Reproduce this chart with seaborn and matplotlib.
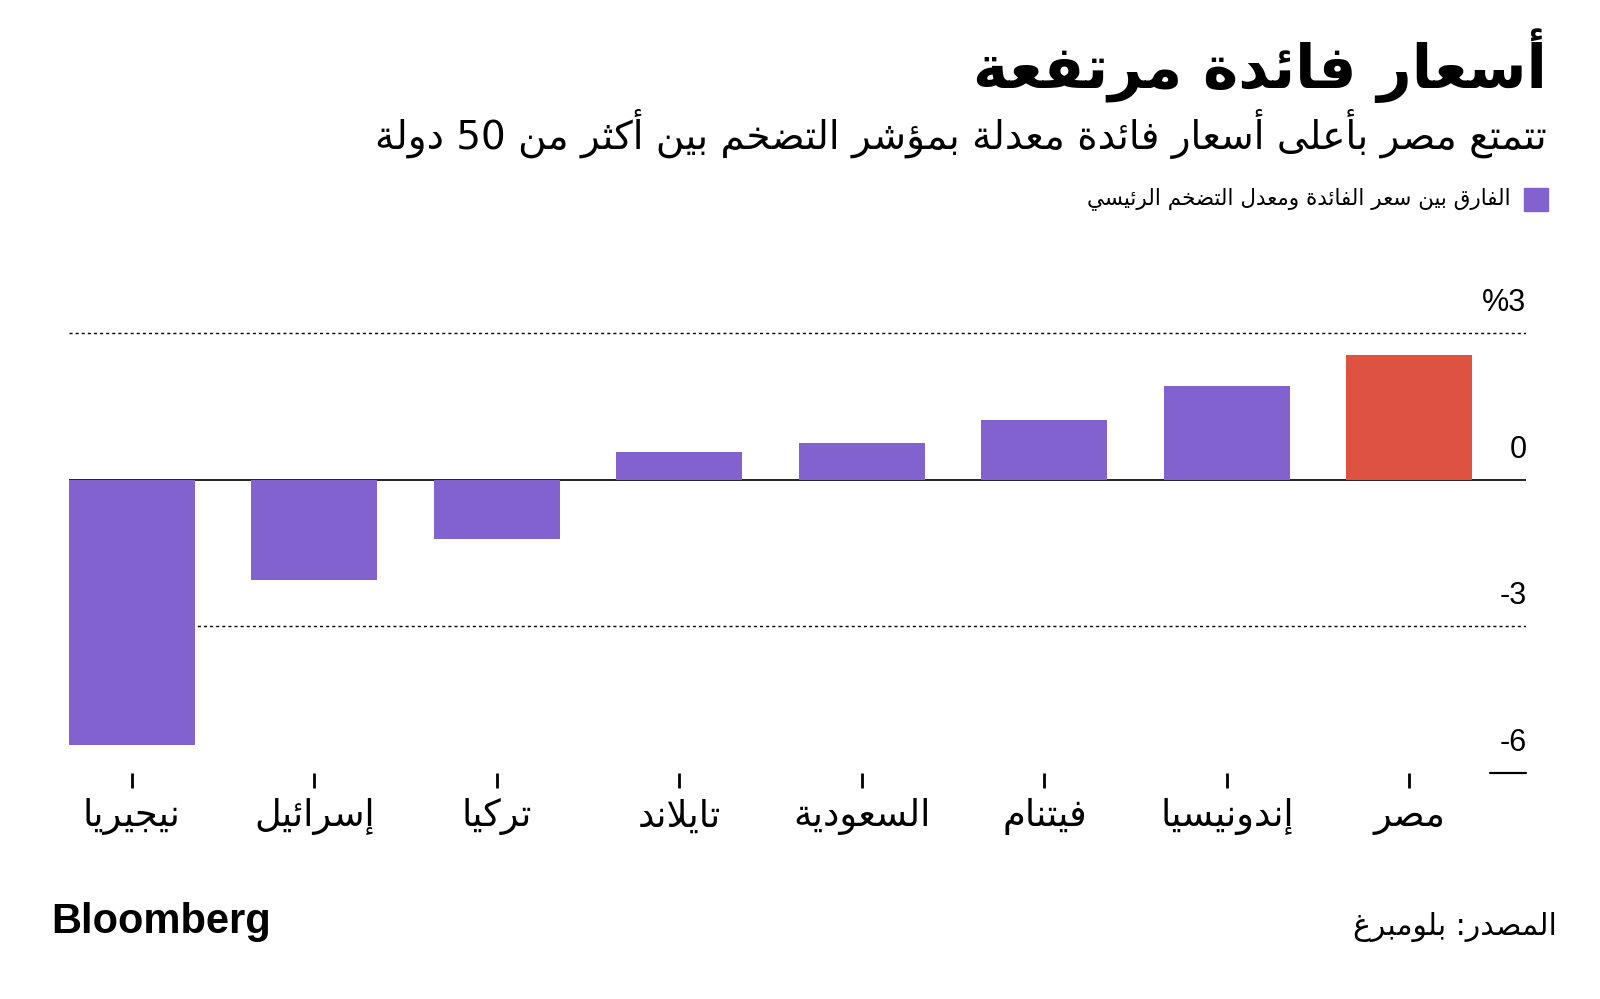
import re
import matplotlib
matplotlib.use("Agg")
import matplotlib.pyplot as plt
import matplotlib.patches as mpatches
import pandas as pd
import seaborn as sns

# ================================
# Data
# ================================
countries = ["نيجيريا", "إسرائيل", "تركيا", "تايلاند", "السعودية", "فيتنام", "إندونيسيا", "مصر"]
spread = [-5.43, -2.05, -1.21, 0.57, 0.76, 1.22, 1.93, 2.56]
highlight = "مصر"

y_levels = [3, 0, -3, -6]
y_labels = ["%3", "0", "-3", "-6"]

title = "أسعار فائدة مرتفعة"
subtitle = "تتمتع مصر بأعلى أسعار فائدة معدلة بمؤشر التضخم بين أكثر من 50 دولة"
legend_label = "الفارق بين سعر الفائدة ومعدل التضخم الرئيسي"
source = "المصدر: بلومبرغ"
brand = "Bloomberg"

PURPLE = "#8262CF"
RED = "#DE5242"

# ================================
# Minimal Arabic shaping (matplotlib has no bidi / joining support)
# ================================
_letters = [("ء", 1), ("آ", 2), ("أ", 2), ("ؤ", 2), ("إ", 2), ("ئ", 4), ("ا", 2),
            ("ب", 4), ("ة", 2), ("ت", 4), ("ث", 4), ("ج", 4), ("ح", 4), ("خ", 4),
            ("د", 2), ("ذ", 2), ("ر", 2), ("ز", 2), ("س", 4), ("ش", 4), ("ص", 4),
            ("ض", 4), ("ط", 4), ("ظ", 4), ("ع", 4), ("غ", 4), ("ف", 4), ("ق", 4),
            ("ك", 4), ("ل", 4), ("م", 4), ("ن", 4), ("ه", 4), ("و", 2), ("ى", 2),
            ("ي", 4)]
FORMS = {}
cp = 0xFE80
for ch, n in _letters:
    FORMS[ch] = [chr(cp + k) for k in range(n)]
    cp += n
LAM_ALEF = {"آ": 0xFEF5, "أ": 0xFEF7, "إ": 0xFEF9, "ا": 0xFEFB}


def shape(text):
    tokens = []
    i = 0
    while i < len(text):
        c = text[i]
        if c == "ل" and i + 1 < len(text) and text[i + 1] in LAM_ALEF:
            tokens.append(("LA", text[i + 1]))
            i += 2
        else:
            tokens.append(("C", c))
            i += 1

    def joins_next(t):
        return t[0] == "C" and t[1] in FORMS and len(FORMS[t[1]]) == 4

    def joins_prev(t):
        return t[0] == "LA" or (t[1] in FORMS and len(FORMS[t[1]]) > 1)

    res = []
    for k, t in enumerate(tokens):
        p = k > 0 and joins_next(tokens[k - 1]) and joins_prev(t)
        n = k + 1 < len(tokens) and joins_next(t) and joins_prev(tokens[k + 1])
        if t[0] == "LA":
            res.append(chr(LAM_ALEF[t[1]] + (1 if p else 0)))
        elif t[1] in FORMS:
            f = FORMS[t[1]]
            idx = 3 if (p and n) else 1 if p else 2 if n else 0
            res.append(f[min(idx, len(f) - 1)] if len(f) > 1 else f[0])
        else:
            res.append(t[1])
    return "".join(res)


def rtl(text):
    runs = re.findall(r"[0-9A-Za-z.%]+|[^0-9A-Za-z.%]", shape(text))
    return "".join(reversed(runs))


# ================================
# Plot
# ================================
df = pd.DataFrame({"country": [rtl(c) for c in countries], "spread": spread})
palette = {rtl(c): (RED if c == highlight else PURPLE) for c in countries}

sns.set_theme(style="white")
plt.rcParams["font.family"] = ["DejaVu Sans"]
plt.rcParams["text.color"] = "black"
plt.rcParams["xtick.color"] = "black"

fig = plt.figure(figsize=(16, 9.99), dpi=100)
ax = fig.add_axes([0.043, 0.2262, 0.911, 0.4646])

sns.barplot(data=df, x="country", y="spread", hue="country", palette=palette,
            width=0.69, saturation=1, legend=False, linewidth=0, ax=ax, zorder=3)

ax.set_xlim(-0.345, 7.641)
ax.set_ylim(-6, 3.5)

# reference lines
ax.axhline(3, color="black", lw=1, ls=(0, (2.2, 2.2)), zorder=1)
ax.axhline(-3, color="black", lw=1, ls=(0, (2.2, 2.2)), zorder=1)
ax.axhline(0, color="black", lw=1.2, zorder=2)
ax.axhline(-6, xmin=0.975, xmax=1.0, color="black", lw=1.6, zorder=2, clip_on=False)

for v, lab in zip(y_levels, y_labels):
    ax.annotate(lab, xy=(1, v), xycoords=ax.get_yaxis_transform(),
                xytext=(0, 11), textcoords="offset points", ha="right", va="bottom",
                fontsize=22, family="Liberation Sans", color="black")

sns.despine(ax=ax, left=True, bottom=True)
ax.set_yticks([])
ax.set_xlabel("")
ax.set_ylabel("")
ax.tick_params(axis="x", length=11, width=2, color="black", labelcolor="black",
               direction="out", pad=7, labelsize=26.5, bottom=True)

# ================================
# Titles, legend, footer
# ================================
fig.text(0.967, 0.934, rtl(title), ha="right", va="center", fontsize=43, fontweight="bold")
fig.text(0.967, 0.866, rtl(subtitle), ha="right", va="center", fontsize=28)

fig.patches.append(mpatches.Rectangle((0.9525, 0.7888), 0.015, 0.023, color=PURPLE,
                                      transform=fig.transFigure, figure=fig))
fig.text(0.944, 0.801, rtl(legend_label), ha="right", va="center", fontsize=15.5)

fig.text(0.032, 0.077, brand, ha="left", va="center", fontsize=30, fontweight="bold",
         family="Liberation Sans")
fig.text(0.973, 0.072, rtl(source), ha="right", va="center", fontsize=21.5)

fig.savefig("out.png", dpi=100, facecolor="white")
